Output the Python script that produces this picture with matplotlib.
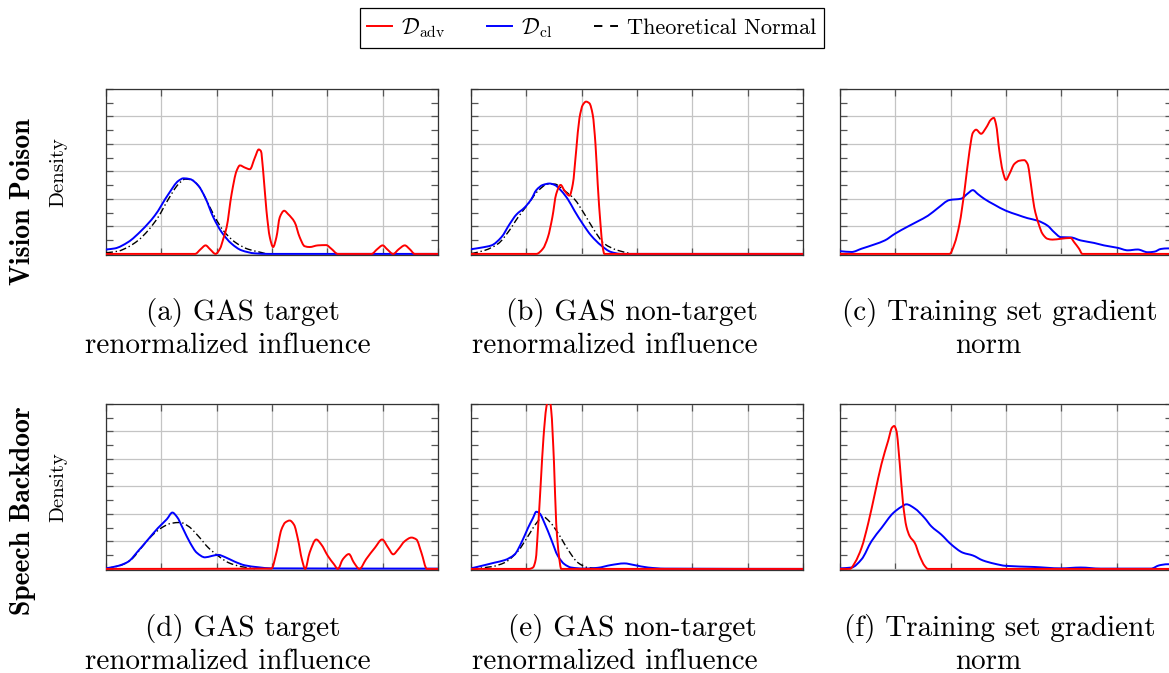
import matplotlib
matplotlib.use("Agg")
import numpy as np
import matplotlib.pyplot as plt
from matplotlib.lines import Line2D
from matplotlib.path import Path
from matplotlib.patches import PathPatch
from matplotlib.ticker import MultipleLocator

plt.rcParams['mathtext.fontset'] = 'cm'
plt.rcParams['axes.unicode_minus'] = False

# ---------------- data (x in grid units 0..6, density in grid units) ----------------
# (a) Vision Poison, GAS target renormalized influence
a_cl_x = [0, 0.16, 0.40, 0.64, 0.88, 1.13, 1.31, 1.40, 1.52, 1.67, 1.79, 1.94, 2.09, 2.27, 2.45, 2.69, 2.93, 6.0]
a_cl_y = [0.16, 0.20, 0.43, 0.85, 1.39, 2.18, 2.66, 2.75, 2.72, 2.48, 2.06, 1.33, 0.79, 0.37, 0.13, 0.02, 0, 0]
a_norm_x = [0, 0.22, 0.40, 0.58, 0.76, 0.94, 1.13, 1.31, 1.43, 1.55, 1.67, 1.82, 1.97, 2.12, 2.33, 2.57, 2.81, 2.90]
a_norm_y = [0.04, 0.10, 0.25, 0.49, 0.85, 1.33, 2.00, 2.54, 2.72, 2.69, 2.48, 1.94, 1.33, 0.85, 0.43, 0.17, 0.05, 0]
a_adv_x = [0, 1.61, 1.71, 1.80, 1.88, 1.98, 2.06, 2.12, 2.18, 2.27, 2.36, 2.42, 2.51, 2.60, 2.69, 2.76, 2.80, 2.84,
           2.90, 2.96, 3.02, 3.08, 3.14, 3.22, 3.29, 3.41, 3.50, 3.59, 3.68, 3.83, 3.98, 4.07, 4.19, 4.80, 4.90, 5.00,
           5.08, 5.19, 5.29, 5.40, 5.49, 5.58, 6.0]
a_adv_y = [0, 0, 0.17, 0.31, 0.17, 0, 0.19, 0.55, 0.97, 2.18, 3.02, 3.22, 3.14, 3.08, 3.50, 3.80, 3.74, 3.02,
           1.57, 0.61, 0.25, 0.61, 1.33, 1.57, 1.45, 1.15, 0.61, 0.28, 0.25, 0.31, 0.32, 0.19, 0, 0, 0.17, 0.31,
           0.17, 0, 0.17, 0.31, 0.17, 0, 0]

# (b) Vision Poison, GAS non-target renormalized influence
b_cl_x = [0, 0.19, 0.37, 0.55, 0.70, 0.82, 0.97, 1.09, 1.18, 1.30, 1.42, 1.51, 1.63, 1.75, 1.87, 2.02, 2.17, 2.35, 2.53, 2.71, 6.0]
b_cl_y = [0.17, 0.23, 0.31, 0.61, 1.09, 1.43, 1.69, 1.99, 2.32, 2.51, 2.56, 2.51, 2.30, 1.99, 1.57, 1.09, 0.67, 0.31, 0.07, 0, 0]
b_norm_x = [0, 0.25, 0.49, 0.67, 0.85, 1.03, 1.21, 1.39, 1.51, 1.69, 1.87, 2.05, 2.23, 2.41, 2.65, 2.89]
b_norm_y = [0.01, 0.13, 0.37, 0.79, 1.33, 1.81, 2.29, 2.54, 2.54, 2.30, 1.99, 1.45, 0.85, 0.37, 0.13, 0.01]
b_adv_x = [0, 1.18, 1.30, 1.39, 1.47, 1.54, 1.62, 1.69, 1.78, 1.84, 1.90, 1.96, 2.02, 2.08, 2.14, 2.20, 2.25, 2.29,
           2.34, 2.38, 2.41, 6.0]
b_adv_y = [0, 0, 0.19, 0.61, 1.33, 2.18, 2.51, 2.30, 2.12, 2.54, 3.74, 4.94, 5.42, 5.54, 5.48, 5.06, 3.98, 2.54,
           1.09, 0.25, 0, 0]

# (c) Vision Poison, training set gradient norm
c_cl_x = [0, 0.21, 0.39, 0.63, 0.81, 0.99, 1.23, 1.41, 1.59, 1.77, 1.98, 2.19, 2.31, 2.40, 2.49, 2.61, 2.79, 3.00,
          3.21, 3.39, 3.57, 3.75, 3.87, 3.99, 4.17, 4.35, 4.59, 4.77, 5.02, 5.20, 5.38, 5.56, 5.68, 5.80, 5.92, 6.0]
c_cl_y = [0.10, 0.07, 0.19, 0.35, 0.49, 0.73, 1.00, 1.19, 1.39, 1.67, 1.96, 2.01, 2.20, 2.32, 2.18, 2.00, 1.79, 1.57,
          1.42, 1.30, 1.21, 1.03, 0.79, 0.61, 0.60, 0.49, 0.40, 0.31, 0.22, 0.13, 0.16, 0.06, 0.08, 0.18, 0.20, 0.20]
c_adv_x = [0, 1.98, 2.07, 2.16, 2.25, 2.34, 2.40, 2.46, 2.55, 2.64, 2.73, 2.78, 2.82, 2.88, 2.94, 3.00, 3.06, 3.15,
           3.24, 3.33, 3.39, 3.45, 3.51, 3.59, 3.66, 3.75, 3.84, 3.99, 4.17, 4.23, 4.32, 4.38, 6.0]
c_adv_y = [0, 0, 0.37, 1.09, 2.30, 3.74, 4.40, 4.52, 4.37, 4.59, 4.89, 4.95, 4.71, 3.74, 3.02, 2.69, 2.90, 3.27,
           3.39, 3.41, 3.27, 2.54, 1.70, 1.09, 0.73, 0.55, 0.52, 0.55, 0.58, 0.43, 0.19, 0, 0]

# (d) Speech Backdoor, GAS target renormalized influence
d_cl_x = [0, 0.22, 0.40, 0.58, 0.76, 0.94, 1.10, 1.20, 1.28, 1.40, 1.52, 1.64, 1.79, 1.91, 2.03, 2.15, 2.33, 2.51, 2.75, 2.99, 6.0]
d_cl_y = [0.02, 0.11, 0.26, 0.65, 1.07, 1.49, 1.81, 2.05, 1.90, 1.43, 0.95, 0.59, 0.42, 0.47, 0.51, 0.43, 0.26, 0.13, 0.06, 0.02, 0.01]
d_norm_x = [0, 0.28, 0.46, 0.64, 0.82, 1.00, 1.18, 1.34, 1.49, 1.67, 1.85, 2.03, 2.21, 2.45, 2.69]
d_norm_y = [0.01, 0.14, 0.35, 0.77, 1.19, 1.49, 1.66, 1.69, 1.55, 1.19, 0.77, 0.47, 0.23, 0.08, 0.01]
d_adv_x = [0, 2.99, 3.08, 3.17, 3.24, 3.32, 3.40, 3.47, 3.54, 3.60, 3.68, 3.80, 3.89, 4.01, 4.12, 4.19, 4.28, 4.39,
           4.48, 4.58, 4.70, 4.86, 4.99, 5.10, 5.19, 5.28, 5.40, 5.52, 5.61, 5.70, 5.80, 6.0]
d_adv_y = [0, 0.01, 0.59, 1.43, 1.69, 1.76, 1.60, 1.07, 0.35, 0, 0.59, 1.07, 0.89, 0.47, 0.17, 0, 0.35, 0.54,
           0.23, 0, 0.35, 0.77, 1.07, 0.77, 0.53, 0.71, 1.01, 1.14, 1.07, 0.59, 0, 0]

# (e) Speech Backdoor, GAS non-target renormalized influence
e_cl_x = [0, 0.19, 0.43, 0.61, 0.79, 0.91, 1.03, 1.12, 1.18, 1.24, 1.33, 1.45, 1.57, 1.69, 1.81, 2.05, 2.29, 2.53,
          2.77, 2.95, 3.20, 3.50, 6.0]
e_cl_y = [0.02, 0.11, 0.23, 0.32, 0.53, 0.95, 1.49, 1.85, 2.08, 2.02, 1.66, 1.07, 0.47, 0.17, 0.05, 0.01, 0.04, 0.14,
          0.20, 0.14, 0.05, 0.01, 0]
e_norm_x = [0, 0.37, 0.61, 0.85, 1.03, 1.18, 1.30, 1.42, 1.57, 1.75, 1.93, 2.11, 2.41]
e_norm_y = [0, 0.08, 0.23, 0.65, 1.19, 1.66, 1.90, 1.72, 1.31, 0.71, 0.23, 0.05, 0]
e_adv_x = [0, 1.05, 1.12, 1.17, 1.21, 1.26, 1.31, 1.36, 1.41, 1.45, 1.50, 1.54, 1.59, 1.63, 6.0]
e_adv_y = [0, 0, 0.05, 0.35, 1.43, 3.10, 4.78, 5.86, 6.30, 5.76, 3.86, 1.66, 0.47, 0, 0]

# (f) Speech Backdoor, training set gradient norm
f_cl_x = [0, 0.21, 0.39, 0.57, 0.75, 0.96, 1.11, 1.20, 1.35, 1.53, 1.65, 1.83, 2.01, 2.22, 2.40, 2.58, 2.79, 3.00,
          3.51, 3.99, 4.35, 4.71, 5.62, 5.77, 5.92, 6.0]
f_cl_y = [0.02, 0.05, 0.35, 1.01, 1.49, 2.03, 2.26, 2.35, 2.20, 1.85, 1.55, 1.25, 0.89, 0.59, 0.49, 0.31, 0.19, 0.11,
          0.07, 0.02, 0.05, 0.01, 0.01, 0.13, 0.17, 0.17]
f_adv_x = [0, 0.18, 0.27, 0.39, 0.51, 0.63, 0.75, 0.87, 0.94, 0.98, 1.02, 1.08, 1.14, 1.20, 1.26, 1.35, 1.44, 1.53, 1.59, 6.0]
f_adv_y = [0, 0, 0.23, 0.77, 1.66, 2.74, 3.82, 4.66, 5.14, 5.20, 5.02, 3.82, 2.37, 1.54, 1.19, 0.95, 0.47, 0.11, 0, 0]

caption_line1 = ["(a) GAS target", "(b) GAS non-target", "(c) Training set gradient",
                 "(d) GAS target", "(e) GAS non-target", "(f) Training set gradient"]
caption_line2 = ["renormalized influence", "renormalized influence", "norm",
                 "renormalized influence", "renormalized influence", "norm"]
row_labels = ["Vision Poison", "Speech Backdoor"]
legend_labels = [r"$\mathcal{D}_{\mathrm{adv}}$", r"$\mathcal{D}_{\mathrm{cl}}$", "Theoretical Normal"]

panels = [
    (a_adv_x, a_adv_y, a_cl_x, a_cl_y, a_norm_x, a_norm_y),
    (b_adv_x, b_adv_y, b_cl_x, b_cl_y, b_norm_x, b_norm_y),
    (c_adv_x, c_adv_y, c_cl_x, c_cl_y, None, None),
    (d_adv_x, d_adv_y, d_cl_x, d_cl_y, d_norm_x, d_norm_y),
    (e_adv_x, e_adv_y, e_cl_x, e_cl_y, e_norm_x, e_norm_y),
    (f_adv_x, f_adv_y, f_cl_x, f_cl_y, None, None),
]


def smooth_path(x, y):
    """Monotone (PCHIP-style) cubic Bezier path through the given points (drawing only)."""
    x = np.asarray(x, float)
    y = np.asarray(y, float)
    n = len(x)
    h = np.diff(x)
    d = np.diff(y) / h
    m = np.zeros(n)
    m[0], m[-1] = d[0], d[-1]
    for k in range(1, n - 1):
        if d[k - 1] * d[k] <= 0:
            m[k] = 0.0
        else:
            w1 = 2 * h[k] + h[k - 1]
            w2 = h[k] + 2 * h[k - 1]
            m[k] = (w1 + w2) / (w1 / d[k - 1] + w2 / d[k])
    verts = [(x[0], y[0])]
    codes = [Path.MOVETO]
    for k in range(n - 1):
        verts += [(x[k] + h[k] / 3, y[k] + m[k] * h[k] / 3),
                  (x[k + 1] - h[k] / 3, y[k + 1] - m[k + 1] * h[k] / 3),
                  (x[k + 1], y[k + 1])]
        codes += [Path.CURVE4] * 3
    return Path(verts, codes)


# ---------------- layout ----------------
W, H = 1169, 673
fig = plt.figure(figsize=(W / 100, H / 100), dpi=100)

col_left = [106, 471, 840]
ax_w = 332
row_top = [89, 404]
ax_h = 166

cap1_cx = [243, 632, 1000]
cap2_cx = [228, 615, 988]
cap1_base = [320, 636]
cap2_base = [353, 669]

RED = '#ff0000'
BLUE = '#0000ff'
serif = 'cmr10'

for i, (ax_, ay_, cx_, cy_, nx_, ny_) in enumerate(panels):
    r, c = divmod(i, 3)
    left = col_left[c] / W
    bottom = 1 - (row_top[r] + ax_h) / H
    ax = fig.add_axes([left, bottom, ax_w / W, ax_h / H])
    if nx_ is not None:
        ax.add_patch(PathPatch(smooth_path(nx_, ny_), fill=False, edgecolor='black', lw=1.0,
                               linestyle=(0, (5, 2, 1, 2)), zorder=3))
    ax.add_patch(PathPatch(smooth_path(cx_, cy_), fill=False, edgecolor=BLUE, lw=1.4,
                           joinstyle='round', zorder=4))
    ax.add_patch(PathPatch(smooth_path(ax_, ay_), fill=False, edgecolor=RED, lw=1.4,
                           joinstyle='round', zorder=5))
    ax.set_xlim(0, 6)
    ax.set_ylim(-0.04, 6)
    ax.xaxis.set_major_locator(MultipleLocator(1))
    ax.yaxis.set_major_locator(MultipleLocator(1))
    ax.yaxis.set_minor_locator(MultipleLocator(0.5))
    ax.grid(True, which='major', color='#c4c4c4', lw=0.9)
    ax.set_axisbelow(True)
    ax.tick_params(which='both', direction='in', top=True, right=True, bottom=True, left=True,
                   labelbottom=False, labelleft=False, length=5, width=0.9, color='#555555')
    ax.tick_params(axis='x', which='minor', length=0)
    for s in ax.spines.values():
        s.set_color('#333333')
        s.set_linewidth(0.9)

    fig.text(cap1_cx[c] / W, 1 - cap1_base[r] / H, caption_line1[i], family=serif, fontsize=21,
             ha='center', va='baseline')
    fig.text(cap2_cx[c] / W, 1 - cap2_base[r] / H, caption_line2[i], family=serif, fontsize=21,
             ha='center', va='baseline')

# Density labels and row labels
for r in range(2):
    yc = 1 - (row_top[r] + ax_h / 2) / H
    fig.text(58 / W, yc, "Density", family=serif, fontsize=15, rotation=90, ha='center', va='center')
row_centers = [202, 511]
for r in range(2):
    fig.text(23 / W, 1 - row_centers[r] / H, row_labels[r], family='cmb10', fontsize=20,
             rotation=90, ha='center', va='center')

# legend
handles = [Line2D([], [], color=RED, lw=1.4),
           Line2D([], [], color=BLUE, lw=1.4),
           Line2D([], [], color='black', lw=1.4, linestyle=(0, (4.3, 4.0)))]
leg = fig.legend(handles, legend_labels, loc='center', bbox_to_anchor=(592 / W, 1 - 28 / H),
                 ncol=3, frameon=True, fancybox=False, edgecolor='black', framealpha=1,
                 handlelength=1.1, handletextpad=0.4, columnspacing=1.9,
                 borderpad=0.35, prop={'family': serif, 'size': 16})
leg.get_frame().set_linewidth(0.9)

fig.savefig("out.png", dpi=100)
